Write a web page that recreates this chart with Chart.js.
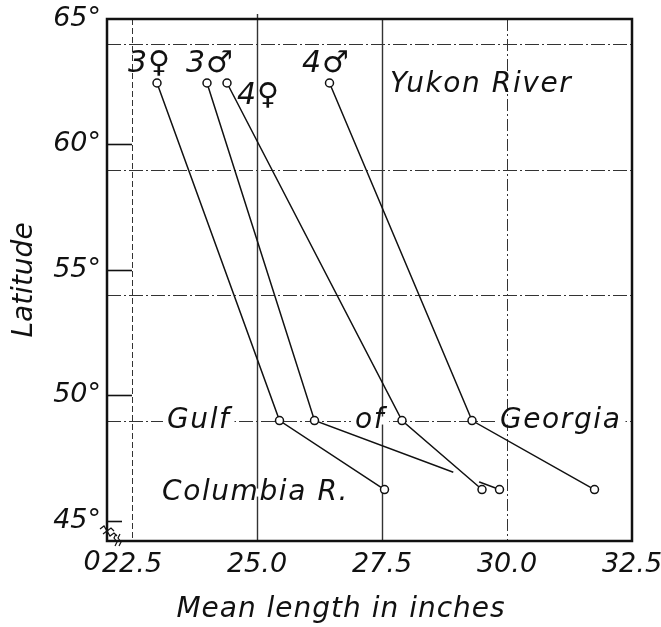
<!DOCTYPE html>
<html><head><meta charset="utf-8">
<script src="https://cdn.jsdelivr.net/npm/chart.js@4/dist/chart.umd.min.js"></script>
<style>html,body{margin:0;padding:0;background:#fff}#wrap{width:661px;height:627px}</style>
</head><body><div id="wrap"><canvas id="c" width="661" height="627"></canvas></div>
<script>
// ---- data ----
const sites = ['Yukon River', 'Gulf of Georgia', 'Columbia R.'];
const latitudes = [62.45, 49.0, 46.25];
const len3F = [23.0, 25.45, 27.55];
const len3M = [24.0, 26.15, 29.85];
const len4F = [24.4, 27.9, 29.5];
const len4M = [26.45, 29.3, 31.75];
const xTicks = [22.5, 25.0, 27.5, 30.0, 32.5];
const yTicks = [45, 50, 55, 60, 65];
const hGrid = [64, 59, 54, 49];
const groupLabels = ['3♀', '3♂', '4♀', '4♂'];
const groupLabelX = [22.42, 23.58, 24.6, 25.9];
const groupLabelY = [63.2, 63.2, 61.93, 63.2];
const placeLabels = ['Yukon River', 'Gulf', 'of', 'Georgia', 'Columbia R.'];
const placeLabelX = [27.66, 23.2, 26.96, 29.86, 23.1];
const placeLabelY = [62.4, 49.0, 49.0, 49.0, 46.13];
const xTitle = 'Mean length in inches';
const yTitle = 'Latitude';

const FAM = "'DejaVu Sans', sans-serif";
const INK = '#111';

function series(lens, name, order) {
  return {
    label: name,
    order: order,
    data: lens.map((x, i) => ({x: x, y: latitudes[i]})),
    showLine: true,
    borderColor: INK,
    borderWidth: 1.5,
    pointRadius: 4,
    pointHoverRadius: 4,
    pointBackgroundColor: '#fff',
    pointBorderColor: INK,
    pointBorderWidth: 1.5,
    tension: 0
  };
}

const decor = {
  id: 'decor',
  beforeDatasetsDraw(chart) {
    const ctx = chart.ctx, xs = chart.scales.x, ys = chart.scales.y, a = chart.chartArea;
    ctx.save();
    // horizontal dash-dot grid
    ctx.strokeStyle = '#333'; ctx.lineWidth = 1;
    ctx.setLineDash([14, 3, 2, 3]);
    hGrid.forEach(v => {
      const y = Math.round(ys.getPixelForValue(v)) + 0.5;
      ctx.beginPath(); ctx.moveTo(a.left, y); ctx.lineTo(a.right, y); ctx.stroke();
    });
    // vertical grid lines
    const vStyles = {22.5: [6, 3], 25: [], 27.5: [], 30: [12, 3, 2, 3]};
    xTicks.forEach(v => {
      if (!(v in vStyles)) return;
      const x = Math.round(xs.getPixelForValue(v)) + 0.5;
      ctx.setLineDash(vStyles[v]);
      ctx.lineWidth = vStyles[v].length ? 1 : 1.4;
      ctx.beginPath(); ctx.moveTo(x, a.top - (v === 25 ? 5 : 0)); ctx.lineTo(x, a.bottom); ctx.stroke();
    });
    ctx.setLineDash([]);
    // short solid tick marks on y axis
    ctx.lineWidth = 1.6; ctx.strokeStyle = INK;
    yTicks.forEach(v => {
      if (v === 65) return;
      const y = Math.round(ys.getPixelForValue(v)) + 0.5;
      const x2 = v === 45 ? a.left + 15 : xs.getPixelForValue(22.5);
      ctx.beginPath(); ctx.moveTo(a.left, y); ctx.lineTo(x2, y); ctx.stroke();
    });
    // frame
    ctx.lineWidth = 2.5;
    ctx.strokeRect(a.left, a.top, a.right - a.left, a.bottom - a.top);
    // axis break marks
    ctx.lineWidth = 1.2;
    const bx = a.left - 7, by = a.bottom - 12;
    for (let k = 0; k < 2; k++) {
      ctx.beginPath();
      const ox = bx + k * 3, oy = by + k * 5;
      ctx.moveTo(ox, oy);
      ctx.lineTo(ox + 4, oy - 3); ctx.lineTo(ox + 7, oy + 2); ctx.lineTo(ox + 11, oy - 1); ctx.lineTo(ox + 14, oy + 2);
      ctx.stroke();
    }
    for (let k = 0; k < 2; k++) {
      ctx.beginPath();
      const ox = a.left + 9 + k * 4, oy = a.bottom - 7;
      ctx.moveTo(ox, oy); ctx.lineTo(ox - 2, oy + 4); ctx.lineTo(ox + 1, oy + 8); ctx.lineTo(ox - 1, oy + 12);
      ctx.stroke();
    }
    // "0" origin label
    ctx.fillStyle = INK;
    ctx.font = "italic 27px " + FAM;
    ctx.textAlign = 'center'; ctx.textBaseline = 'middle';
    ctx.fillText('0', a.left - 15, a.bottom + 22);
    // text labels
    ctx.textAlign = 'left';
    ctx.font = "italic 30px " + FAM;
    if ('letterSpacing' in ctx) ctx.letterSpacing = '1px';
    groupLabels.forEach((t, i) => {
      ctx.fillText(t, xs.getPixelForValue(groupLabelX[i]), ys.getPixelForValue(groupLabelY[i]));
    });
    if ('letterSpacing' in ctx) ctx.letterSpacing = '1.6px';
    ctx.font = "italic 28px " + FAM;
    placeLabels.forEach((t, i) => {
      const x = xs.getPixelForValue(placeLabelX[i]), y = ys.getPixelForValue(placeLabelY[i]);
      const w = ctx.measureText(t).width;
      ctx.fillStyle = '#fff';
      ctx.fillRect(x - 4, y - 4, w + 8, 8);
      ctx.fillStyle = INK;
      ctx.fillText(t, x, y);
    });
    // x axis title
    if ('letterSpacing' in ctx) ctx.letterSpacing = '1px';
    ctx.font = "italic 28px " + FAM;
    ctx.textAlign = 'center';
    ctx.fillText(xTitle, 341, a.bottom + 69);
    ctx.restore();
  },
  afterDatasetDraw(chart, args) {
    // break in the 3♂ line where it crosses the 4♀ line
    if (args.index !== 1) return;
    const pts = args.meta.data;
    const p = pts[1], q = pts[2];
    const t0 = 0.75, t1 = 0.89;
    const ctx = chart.ctx;
    ctx.save();
    ctx.strokeStyle = '#fff'; ctx.lineWidth = 4;
    ctx.beginPath();
    ctx.moveTo(p.x + (q.x - p.x) * t0, p.y + (q.y - p.y) * t0);
    ctx.lineTo(p.x + (q.x - p.x) * t1, p.y + (q.y - p.y) * t1);
    ctx.stroke();
    ctx.restore();
  }
};

new Chart(document.getElementById('c'), {
  type: 'scatter',
  data: {
    datasets: [series(len3F, '3♀', 0), series(len3M, '3♂', 1), series(len4F, '4♀', 0), series(len4M, '4♂', 0)]
  },
  options: {
    responsive: false,
    animation: false,
    devicePixelRatio: 1,
    layout: {padding: {top: 19, right: 29, left: 0, bottom: 0}},
    plugins: {legend: {display: false}, tooltip: {enabled: false}},
    scales: {
      x: {
        type: 'linear', min: 22, max: 32.5,
        afterBuildTicks: s => { s.ticks = xTicks.map(v => ({value: v})); },
        afterFit: s => { s.height = 86; s.paddingLeft = 0; s.paddingRight = 0; },
        grid: {display: false, drawTicks: false},
        border: {display: false},
        ticks: {
          autoSkip: false, maxRotation: 0, padding: 8, color: INK,
          font: {family: FAM, size: 27, style: 'italic'},
          callback: v => Number(v).toFixed(1)
        },
        title: {display: false}
      },
      y: {
        type: 'linear', min: 44.2, max: 65,
        afterBuildTicks: s => { s.ticks = yTicks.map(v => ({value: v})); },
        afterFit: s => { s.width = 107; s.paddingTop = 0; s.paddingBottom = 0; },
        grid: {display: false, drawTicks: false},
        border: {display: false},
        ticks: {
          autoSkip: false, padding: 6, color: INK,
          font: {family: FAM, size: 27, style: 'italic'},
          callback: v => v + '°'
        },
        title: {
          display: true, text: yTitle, color: INK,
          font: {family: FAM, size: 28, style: 'italic'},
          padding: {top: 8, bottom: 0}
        }
      }
    }
  },
  plugins: [decor]
});
</script>
</body></html>
